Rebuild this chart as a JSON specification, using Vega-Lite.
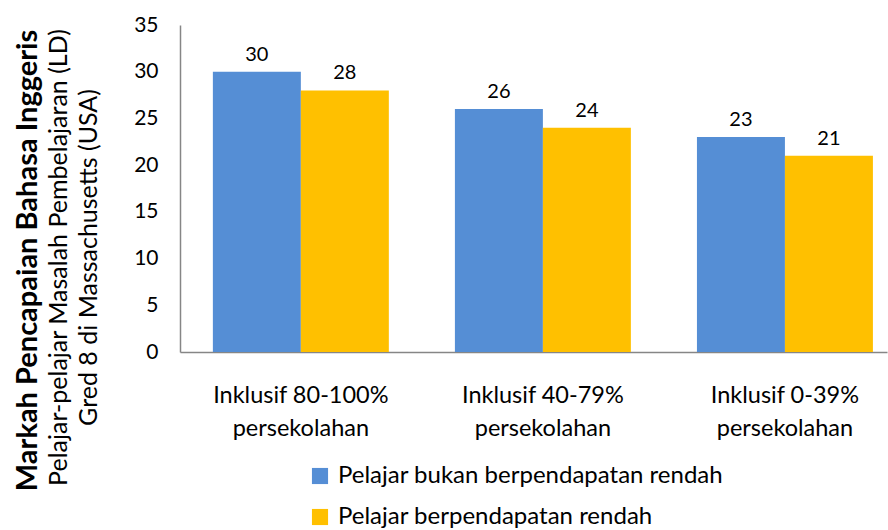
{
  "$schema": "https://vega.github.io/schema/vega-lite/v6.json",
  "width": 707,
  "height": 327,
  "autosize": {"type": "none"},
  "padding": {"left": 180, "top": 25, "right": 1, "bottom": 178},
  "background": "white",
  "title": {
    "text": "Markah Pencapaian Bahasa Inggeris",
    "orient": "left",
    "anchor": "middle",
    "fontSize": 29,
    "fontWeight": "bold",
    "font": "Lato",
    "color": "black",
    "offset": 4,
    "dx": -72
  },
  "data": {
    "values": [
      {"kategori": "Inklusif 80-100% persekolahan", "kumpulan": "Pelajar bukan berpendapatan rendah", "markah": 30},
      {"kategori": "Inklusif 80-100% persekolahan", "kumpulan": "Pelajar berpendapatan rendah", "markah": 28},
      {"kategori": "Inklusif 40-79% persekolahan", "kumpulan": "Pelajar bukan berpendapatan rendah", "markah": 26},
      {"kategori": "Inklusif 40-79% persekolahan", "kumpulan": "Pelajar berpendapatan rendah", "markah": 24},
      {"kategori": "Inklusif 0-39% persekolahan", "kumpulan": "Pelajar bukan berpendapatan rendah", "markah": 23},
      {"kategori": "Inklusif 0-39% persekolahan", "kumpulan": "Pelajar berpendapatan rendah", "markah": 21}
    ]
  },
  "config": {
    "font": "Lato",
    "view": {"stroke": null}
  },
  "encoding": {
    "x": {
      "field": "kategori",
      "type": "nominal",
      "sort": null,
      "scale": {"paddingInner": 0.273, "paddingOuter": 0.097, "align": 0.7},
      "axis": {
        "title": null,
        "labelAngle": 0,
        "labelExpr": "[replace(datum.label, ' persekolahan', ''), 'persekolahan']",
        "labelFontSize": 23.5,
        "labelColor": "black",
        "labelLineHeight": 33,
        "labelPadding": 31,
        "ticks": false,
        "domainColor": "#868686",
        "domainWidth": 1.5,
        "labelBaseline": "top"
      }
    },
    "xOffset": {
      "field": "kumpulan",
      "type": "nominal",
      "sort": ["Pelajar bukan berpendapatan rendah", "Pelajar berpendapatan rendah"],
      "scale": {"paddingInner": 0, "paddingOuter": 0}
    },
    "y": {
      "field": "markah",
      "type": "quantitative",
      "scale": {"domain": [0, 35], "nice": false},
      "axis": {
        "values": [0, 5, 10, 15, 20, 25, 30, 35],
        "grid": false,
        "ticks": false,
        "labelFontSize": 21,
        "labelColor": "black",
        "labelPadding": 22,
        "domainColor": "#868686",
        "domainWidth": 1.5,
        "title": ["Pelajar-pelajar Masalah Pembelajaran (LD)", "Gred 8 di Massachusetts (USA)"],
        "titleFontSize": 25,
        "titleFontWeight": "normal",
        "titleColor": "black",
        "titleLineHeight": 30,
        "titlePadding": 32,
        "titleY": 232
      }
    }
  },
  "layer": [
    {
      "mark": {"type": "bar"},
      "encoding": {
        "color": {
          "field": "kumpulan",
          "type": "nominal",
          "sort": ["Pelajar bukan berpendapatan rendah", "Pelajar berpendapatan rendah"],
          "scale": {"range": ["#558ED5", "#FFC000"]},
          "legend": {
            "title": null,
            "orient": "none",
            "legendX": 128,
            "legendY": 439,
            "direction": "vertical",
            "symbolType": "square",
            "symbolSize": 260,
            "symbolStrokeWidth": 0,
            "symbolOpacity": 1,
            "labelFontSize": 24,
            "labelColor": "black",
            "labelOffset": 6,
            "rowPadding": 17,
            "labelLimit": 600
          }
        }
      }
    },
    {
      "mark": {"type": "text", "baseline": "alphabetic", "dy": -11, "fontSize": 20, "color": "black"},
      "encoding": {
        "text": {"field": "markah", "type": "quantitative"}
      }
    }
  ]
}
